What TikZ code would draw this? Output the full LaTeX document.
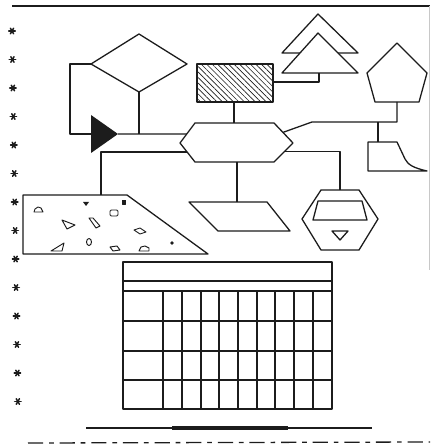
\documentclass[tikz,border=0pt]{standalone}
\usetikzlibrary{calc,patterns.meta}
\definecolor{inkblack}{HTML}{1C1C1C}
\definecolor{scangray}{HTML}{C8C8C8}

\begin{document}
\begin{tikzpicture}[x=0.3mm, y=-0.3mm, inkblack, line width=1.1pt, line join=round,
  stone/.style={line width=0.8pt},
  starmark/.style={line width=1.3pt, line cap=round}]

\useasboundingbox (0,0) rectangle (430,448);

%%% Page frame: top rule, faint right edge, star column
\draw (12,6) -- (430,6);
\draw[scangray, line width=0.6pt] (429,6) -- (429,270);
\foreach \k in {0,...,13} {
  \coordinate (mark\k) at ({12+0.45*\k},{31+28.5*\k});
  \foreach \a in {0,60,120}
    \draw[starmark] (mark\k) ++(\a:3.2) -- ++(\a+180:6.4);
  \fill (mark\k) circle (1.6);
}

%%% Diamond (decision) with black pointer
\coordinate (dtop) at (139,34);
\coordinate (dl) at (91,64);
\coordinate (dr) at (187,64);
\coordinate (db) at (139,92);
\draw (dtop) -- (dr) -- (db) -- (dl) -- cycle;

% pointer: filled triangle
\coordinate (ptrin) at (91,134);
\coordinate (ptrout) at (118,134);
\fill (91,115) -- (ptrout) -- (91,153) -- cycle;

%%% Central hexagon
\coordinate (hl) at (180,143);
\coordinate (htl) at (195,123);
\coordinate (htr) at (274,123);
\coordinate (hr) at (293,143);
\coordinate (hbr) at (274,162);
\coordinate (hbl) at (195,162);
\draw (hl) -- (htl) -- (htr) -- (hr) -- (hbr) -- (hbl) -- cycle;

% connection points on the slanted sides
\coordinate (hinl) at ($(hl)!0.45!(htl)$);
\coordinate (houtl) at ($(hl)!0.47!(hbl)$);
\coordinate (hinr) at ($(htr)!0.47!(hr)$);
\coordinate (houtr) at ($(hr)!0.45!(hbr)$);

%%% Hatched box
\coordinate (hatchb) at (234,102);
\coordinate (hatchr) at (273,82);
\draw[pattern={Lines[angle=-45, distance=3.3pt, line width=0.55pt]}, pattern color=inkblack]
  (197,64) rectangle (273,102);

%%% Two stacked triangles
\coordinate (treeb) at (319,73);
\draw (318,14) -- (358,53) -- (282,53) -- cycle;
\draw[fill=white] (318,33) -- (358,73) -- (282,73) -- cycle;

%%% Pentagon
\coordinate (pentb) at (397,102);
\draw (397,43) -- (427,73) -- (419,102) -- (375,102) -- (367,73) -- cycle;

%%% Card shape, right
\coordinate (cardt) at (378,142);
\draw (368,142) -- (397,142) -- (405,159)
  .. controls (408,165) and (414,168) .. (427,171) -- (368,171) -- cycle;

%%% Hexagon with window
\coordinate (boxt) at (340,190);
\draw (321,190) -- (359,190) -- (378,219) -- (359,250) -- (321,250) -- (302,219) -- cycle;
\draw (318,201) -- (362,201) -- (367,220) -- (313,220) -- cycle;
\draw (332,231) -- (348,231) -- (340,240) -- cycle;

%%% Parallelogram
\coordinate (parat) at (237,202);
\draw (189,202) -- (267,202) -- (290,231) -- (218,231) -- cycle;

%%% Trapezoid with stones
\coordinate (trapt) at (101,195);
\draw (23,195) -- (127,195) -- (208,254) -- (23,254) -- cycle;
\draw[stone] (34,212) -- (35,209) -- (38,207) -- (41,208) -- (43,212) -- cycle;
\fill (83,202) -- (89,202) -- (86,206) -- cycle;
\draw[stone, fill] (122.5,200) rectangle (125.5,204);
\draw[stone, rounded corners=1pt] (110,210) rectangle (118,216);
\draw[stone] (62,220) -- (75,225) -- (67,229) -- cycle;
\draw[stone] (89,218) -- (93,218) -- (100,226) -- (96,228) -- cycle;
\draw[stone] (134,230) -- (140,228) -- (146,232) -- (140,234) -- cycle;
\draw[stone] (89,242) ellipse (2.5 and 3.5);
\draw[stone] (51,251) -- (64,243) -- (62,251) -- cycle;
\draw[stone] (110,247) -- (117,246) -- (120,250) -- (113,251) -- cycle;
\draw[stone] (139,251) -- (141,247) -- (145,246) -- (149,248) -- (149,251) -- cycle;
\fill (172,243) circle (1.8);

%%% Connectors
\draw (dl) -- ++(-21,0) |- (ptrin);
\draw (ptrout) -- (hinl);
\draw (db) -- (db |- ptrout);
\draw (houtl) -| (trapt);
\draw (hatchb) -- (hatchb |- htl);
\draw (hatchr) -| (treeb);
\coordinate (bendr) at (312,122);
\draw (pentb) |- (bendr) -- (hinr);
\draw (cardt |- bendr) -- (cardt);
\draw (houtr) -| (boxt);
\draw (parat |- hbl) -- (parat);

%%% Table
\draw (123,262) rectangle (332,409);
\foreach \y in {281,291,321,351,380}
  \draw (123,\y) -- (332,\y);
\foreach \x in {163,182,201,219,238,257,275,294,313}
  \draw (\x,291) -- (\x,409);

%%% Bottom rules
\draw (86,428) -- (372,428);
\draw[line width=2.6pt] (172,428) -- (288,428);
\draw[dash pattern=on 13pt off 5pt on 4pt off 5pt] (28,443) -- (430,442);

\end{tikzpicture}
\end{document}
